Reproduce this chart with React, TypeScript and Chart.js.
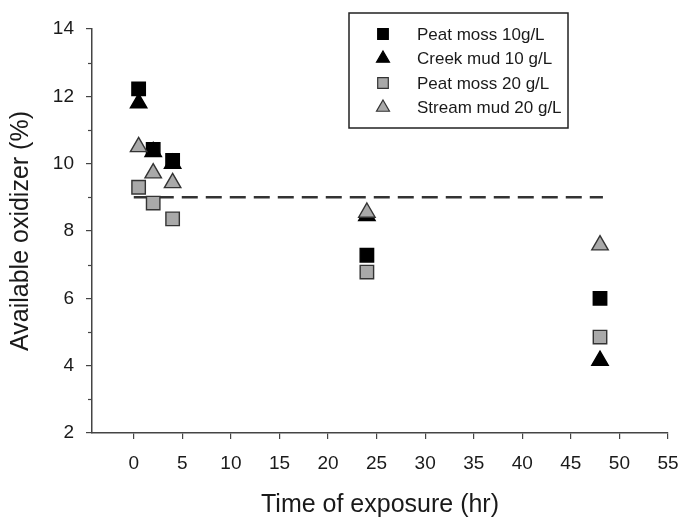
import React, { useEffect, useRef } from "react";
import { Chart, registerables } from "chart.js";

Chart.register(...registerables);

const times = [0.5, 2, 4, 24, 48];
const peatMoss10 = [12.22, 10.42, 10.1, 7.28, 6.0];
const creekMud10 = [11.8, 10.35, 10.0, 8.45, 4.15];
const peatMoss20 = [9.3, 8.83, 8.36, 6.78, 4.85];
const streamMud20 = [10.5, 9.72, 9.43, 8.55, 7.58];
const refLineX = [0, 48.3];
const refLineY = [9, 9];
const xTicks = [0, 5, 10, 15, 20, 25, 30, 35, 40, 45, 50, 55];
const yMinorTicks = [3, 5, 7, 9, 11, 13];

const legendItems = [
  { label: "Peat moss 10g/L", shape: "rect", fill: "#000000", stroke: "#000000" },
  { label: "Creek mud 10 g/L", shape: "triangle", fill: "#000000", stroke: "#000000" },
  { label: "Peat moss 20 g/L", shape: "rect", fill: "#a9a9a9", stroke: "#333333" },
  { label: "Stream mud 20 g/L", shape: "triangle", fill: "#a9a9a9", stroke: "#333333" },
];

const FONT = "'Liberation Sans', Arial, Helvetica, sans-serif";

function toPts(xs: number[], ys: number[]) {
  return xs.map((x, i) => ({ x, y: ys[i] }));
}

function drawMarker(ctx: CanvasRenderingContext2D, shape: string, x: number, y: number, r: number) {
  ctx.beginPath();
  if (shape === "rect") {
    const s = Math.SQRT1_2 * r;
    ctx.rect(x - s, y - s, 2 * s, 2 * s);
  } else {
    let rad = 0;
    ctx.moveTo(x + Math.sin(rad) * r, y - Math.cos(rad) * r);
    rad += (2 * Math.PI) / 3;
    ctx.lineTo(x + Math.sin(rad) * r, y - Math.cos(rad) * r);
    rad += (2 * Math.PI) / 3;
    ctx.lineTo(x + Math.sin(rad) * r, y - Math.cos(rad) * r);
    ctx.closePath();
  }
  ctx.fill();
  ctx.stroke();
}

const extrasPlugin = {
  id: "extras",
  afterDraw(chart: any) {
    const ctx: CanvasRenderingContext2D = chart.ctx;
    const yScale = chart.scales.y;
    ctx.save();
    ctx.strokeStyle = "#444";
    ctx.lineWidth = 1.2;
    const left = chart.chartArea.left;
    yMinorTicks.forEach((v) => {
      const py = Math.round(yScale.getPixelForValue(v)) + 0.5;
      ctx.beginPath();
      ctx.moveTo(left, py);
      ctx.lineTo(left - 4, py);
      ctx.stroke();
    });
    const bx = 349, by = 13, bw = 219, bh = 115;
    ctx.fillStyle = "#ffffff";
    ctx.fillRect(bx, by, bw, bh);
    ctx.strokeStyle = "#222";
    ctx.lineWidth = 1.5;
    ctx.strokeRect(bx, by, bw, bh);
    ctx.font = `17px ${FONT}`;
    ctx.textBaseline = "middle";
    ctx.textAlign = "left";
    legendItems.forEach((it, i) => {
      const cy = 34 + i * 24.5;
      ctx.fillStyle = it.fill;
      ctx.strokeStyle = it.stroke;
      ctx.lineWidth = 1.2;
      drawMarker(ctx, it.shape, 383, cy, 7.5);
      ctx.fillStyle = "#1a1a1a";
      ctx.fillText(it.label, 417, cy + 1);
    });
    ctx.restore();
  },
};

export default function App() {
  const canvasRef = useRef<HTMLCanvasElement | null>(null);

  useEffect(() => {
    document.body.style.margin = "0";
    const canvas = canvasRef.current;
    if (!canvas) return;
    const common = { showLine: false, pointRadius: 9.5, pointHoverRadius: 9.5, pointBorderWidth: 1.4 };
    const chart = new Chart(canvas, {
      type: "scatter",
      data: {
        datasets: [
          {
            label: "Stream mud 20 g/L",
            data: toPts(times, streamMud20),
            pointStyle: "triangle",
            backgroundColor: "#a9a9a9",
            borderColor: "#333333",
            ...common,
          },
          {
            label: "Peat moss 20 g/L",
            data: toPts(times, peatMoss20),
            pointStyle: "rect",
            backgroundColor: "#a9a9a9",
            borderColor: "#333333",
            ...common,
          },
          {
            label: "Peat moss 10g/L",
            data: toPts(times, peatMoss10),
            pointStyle: "rect",
            backgroundColor: "#000000",
            borderColor: "#000000",
            ...common,
          },
          {
            label: "Creek mud 10 g/L",
            data: toPts(times, creekMud10),
            pointStyle: "triangle",
            backgroundColor: "#000000",
            borderColor: "#000000",
            ...common,
          },
          {
            label: "ref",
            data: toPts(refLineX, refLineY),
            showLine: true,
            borderColor: "#333333",
            borderWidth: 2.5,
            borderDash: [16, 8],
            pointRadius: 0,
            pointHoverRadius: 0,
            fill: false,
          } as any,
        ],
      },
      options: {
        animation: false,
        responsive: true,
        maintainAspectRatio: false,
        layout: { padding: { top: 29, right: 16, left: 0, bottom: 0 } },
        plugins: { legend: { display: false }, tooltip: { enabled: false } },
        scales: {
          x: {
            type: "linear",
            min: -4.3,
            max: 55,
            afterBuildTicks: (scale: any) => {
              scale.ticks = xTicks.map((v) => ({ value: v }));
            },
            afterFit: (scale: any) => {
              scale.height = 85;
              scale.paddingLeft = 0;
              scale.paddingRight = 0;
            },
            grid: { drawOnChartArea: false, drawTicks: true, tickLength: 6, color: "#444", lineWidth: 1.2 },
            border: { display: true, color: "#444", width: 1.5 },
            ticks: { color: "#1a1a1a", font: { size: 19, family: FONT }, padding: 13, maxRotation: 0, autoSkip: false },
            title: {
              display: true,
              text: "Time of exposure (hr)",
              color: "#1a1a1a",
              font: { size: 25, family: FONT, lineHeight: 1 },
              padding: { top: 0, bottom: 0 },
            },
          },
          y: {
            type: "linear",
            min: 2,
            max: 14,
            ticks: { stepSize: 2, color: "#1a1a1a", font: { size: 19, family: FONT }, padding: 12 },
            afterFit: (scale: any) => {
              scale.width = 92;
              scale.paddingTop = 0;
              scale.paddingBottom = 0;
            },
            grid: { drawOnChartArea: false, drawTicks: true, tickLength: 6, color: "#444", lineWidth: 1.2 },
            border: { display: true, color: "#444", width: 1.5 },
            title: {
              display: true,
              text: "Available oxidizer (%)",
              color: "#1a1a1a",
              font: { size: 25, family: FONT, lineHeight: 1 },
              padding: { top: 9, bottom: 0 },
            },
          },
        },
      },
      plugins: [extrasPlugin],
    });
    return () => chart.destroy();
  }, []);

  return (
    <div style={{ position: "relative", width: 684, height: 518 }}>
      <canvas ref={canvasRef} />
    </div>
  );
}
